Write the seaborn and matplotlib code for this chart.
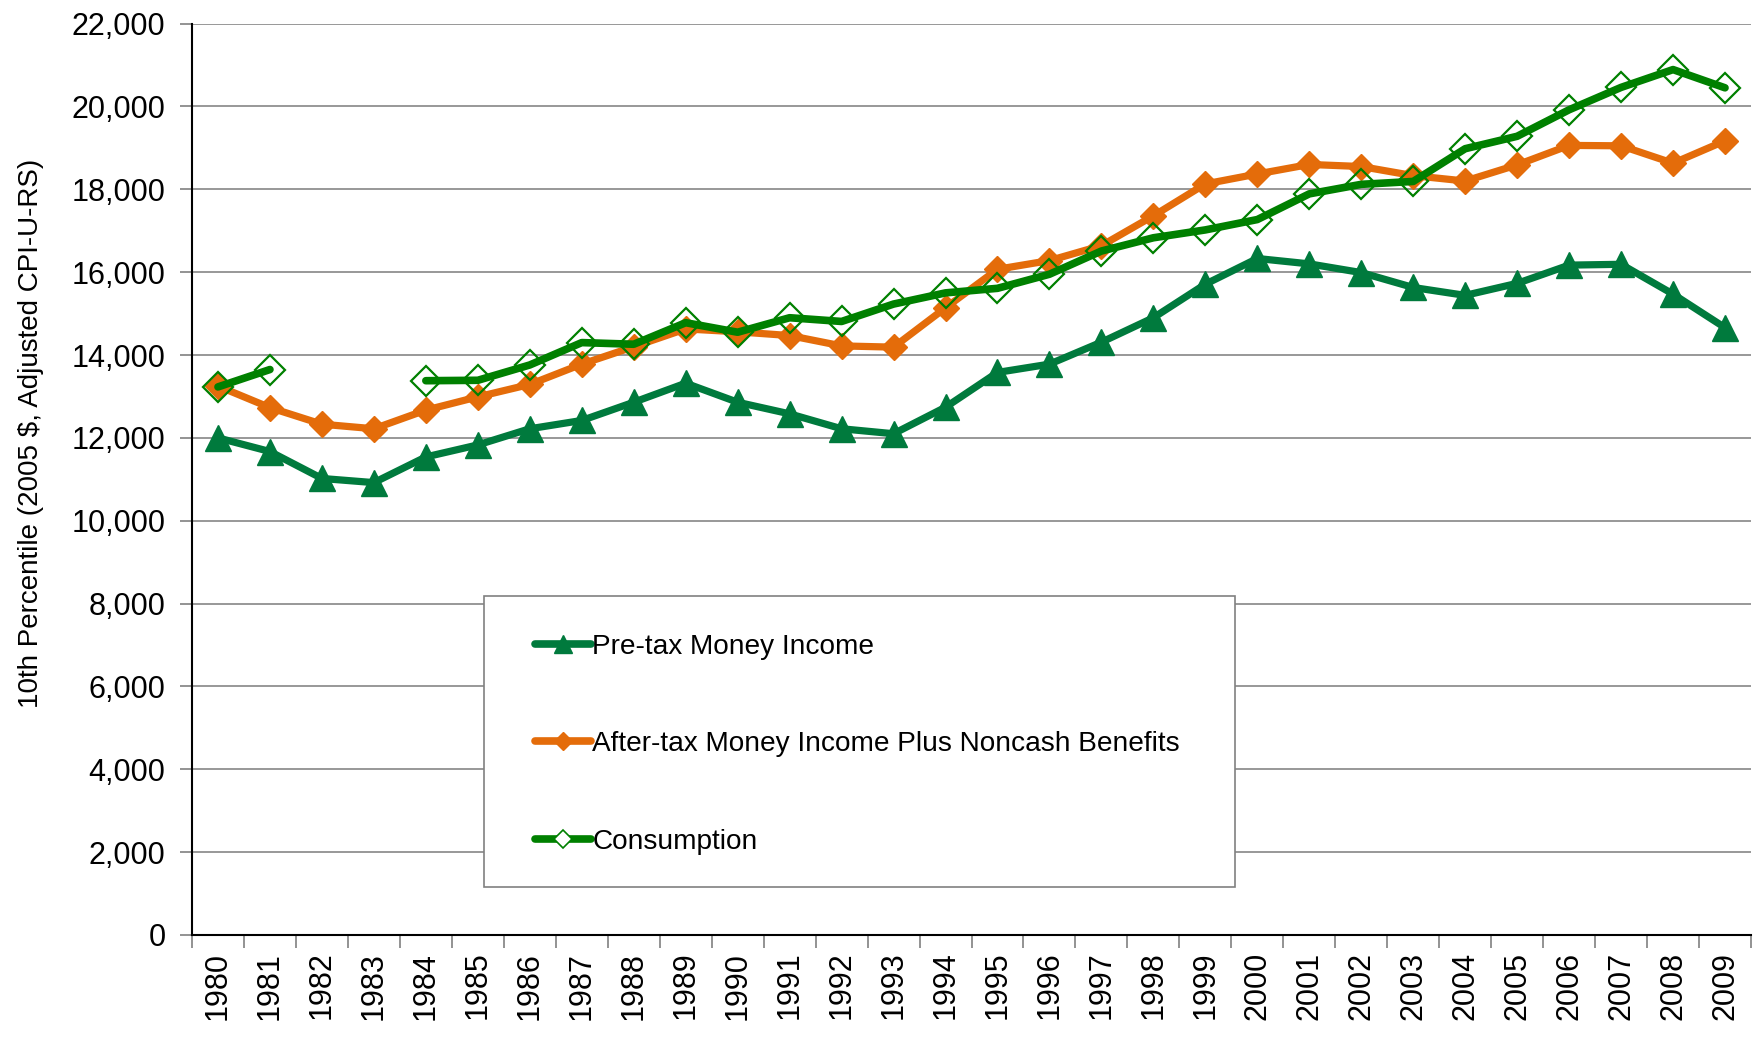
import numpy as np
import pandas as pd
import matplotlib
matplotlib.use("Agg")
import matplotlib.pyplot as plt
import seaborn as sns
from matplotlib.lines import Line2D
from matplotlib.patches import Rectangle

years = list(range(1980, 2010))
pretax = [12000, 11670, 11020, 10920, 11540, 11830, 12220, 12420, 12860, 13320,
          12860, 12580, 12220, 12100, 12740, 13580, 13780, 14310, 14900, 15710,
          16330, 16200, 15990, 15630, 15440, 15730, 16170, 16190, 15470, 14660]
aftertax = [13250, 12730, 12330, 12220, 12670, 12990, 13290, 13780, 14200, 14630,
            14560, 14470, 14220, 14190, 15140, 16070, 16280, 16640, 17360, 18130,
            18370, 18600, 18550, 18330, 18200, 18590, 19060, 19050, 18630, 19170]
consumption = [13230, 13650, np.nan, np.nan, 13380, 13390, 13760, 14300, 14260, 14780,
               14550, 14900, 14810, 15230, 15500, 15610, 15950, 16510, 16830, 17020,
               17270, 17890, 18120, 18190, 18980, 19280, 19920, 20460, 20890, 20450]
labels = ["Pre-tax Money Income",
          "After-tax Money Income Plus Noncash Benefits",
          "Consumption"]
yticks = list(range(0, 22001, 2000))

c_pre = "#007A3D"
c_after = "#E46C0A"
c_cons = "#008000"

sns.set_theme(style="white")
plt.rcParams["font.family"] = ["Liberation Sans", "DejaVu Sans"]
plt.rcParams["text.color"] = "black"
plt.rcParams["axes.labelcolor"] = "black"
plt.rcParams["xtick.color"] = "black"
plt.rcParams["ytick.color"] = "black"

fig = plt.figure(figsize=(17.6, 10.54), dpi=100)
ax = fig.add_axes([192 / 1760, 1 - 935 / 1054, 1559 / 1760, 911.4 / 1054])

df_pre = pd.DataFrame({"year": years, "value": pretax})
df_after = pd.DataFrame({"year": years, "value": aftertax})
df_cons = pd.DataFrame({"year": years, "value": consumption})
df_cons["seg"] = df_cons["value"].isna().cumsum()
df_cons = df_cons.dropna()

sns.lineplot(data=df_pre, x="year", y="value", ax=ax, color=c_pre, linewidth=5.2,
             marker="^", markersize=19, markeredgecolor=c_pre, markerfacecolor=c_pre,
             markeredgewidth=1, zorder=4)
sns.lineplot(data=df_after, x="year", y="value", ax=ax, color=c_after, linewidth=5.2,
             marker="D", markersize=13.5, markeredgecolor=c_after, markerfacecolor=c_after,
             markeredgewidth=1, zorder=5)
sns.lineplot(data=df_cons, x="year", y="value", units="seg", estimator=None, ax=ax,
             color=c_cons, linewidth=5.5, marker="D", markersize=15,
             markeredgecolor=c_cons, markerfacecolor="none", markeredgewidth=1.6, zorder=6)

ax.set_xlim(1979.5, 2009.5)
ax.set_ylim(0, 22000)
ax.set_yticks(yticks)
ax.set_yticklabels([f"{v:,}" for v in yticks])
ax.set_xticks(years)
ax.set_xticklabels([str(y) for y in years], rotation=90)
ax.set_xticks(np.arange(1979.5, 2010, 1), minor=True)
ax.tick_params(axis="x", which="major", length=0, pad=12, labelsize=22, bottom=True,
               labelcolor="black")
ax.tick_params(axis="x", which="minor", length=9, width=1.2, color="#808080", bottom=True)
ax.tick_params(axis="y", which="major", length=9, width=1.2, color="#808080", pad=10,
               labelsize=22, left=True, labelcolor="black")
ax.yaxis.grid(True, color="#868686", linewidth=1.2)
ax.xaxis.grid(False)
ax.set_axisbelow(True)
for s in ["top", "right"]:
    ax.spines[s].set_visible(False)
for s in ["left", "bottom"]:
    ax.spines[s].set_color("black")
    ax.spines[s].set_linewidth(1.5)

ax.set_xlabel("")
ax.set_ylabel("10th Percentile (2005 $, Adjusted CPI-U-RS)", fontsize=20, color="black")
ax.yaxis.set_label_coords(-0.095, 0.55)

rect = Rectangle((0.187, 0.053), 0.482, 0.319, transform=ax.transAxes,
                 facecolor="white", edgecolor="#808080", linewidth=1.2, zorder=7)
ax.add_patch(rect)

handles = [
    Line2D([], [], color=c_pre, lw=5.5, marker="^", markersize=13, mec=c_pre, mfc=c_pre),
    Line2D([], [], color=c_after, lw=5.5, marker="D", markersize=9, mec=c_after, mfc=c_after),
    Line2D([], [], color=c_cons, lw=5.5, marker="D", markersize=9, mec=c_cons, mfc="white", mew=1.2),
]
leg = ax.legend(handles, labels, loc="center left", bbox_to_anchor=(0.220, 0.2095),
                frameon=False, fontsize=20.2, labelspacing=2.55, handlelength=2.0,
                handletextpad=0.05, borderpad=0, borderaxespad=0)
for t in leg.get_texts():
    t.set_color("black")
leg.set_zorder(8)

fig.savefig("out.png", dpi=100)
